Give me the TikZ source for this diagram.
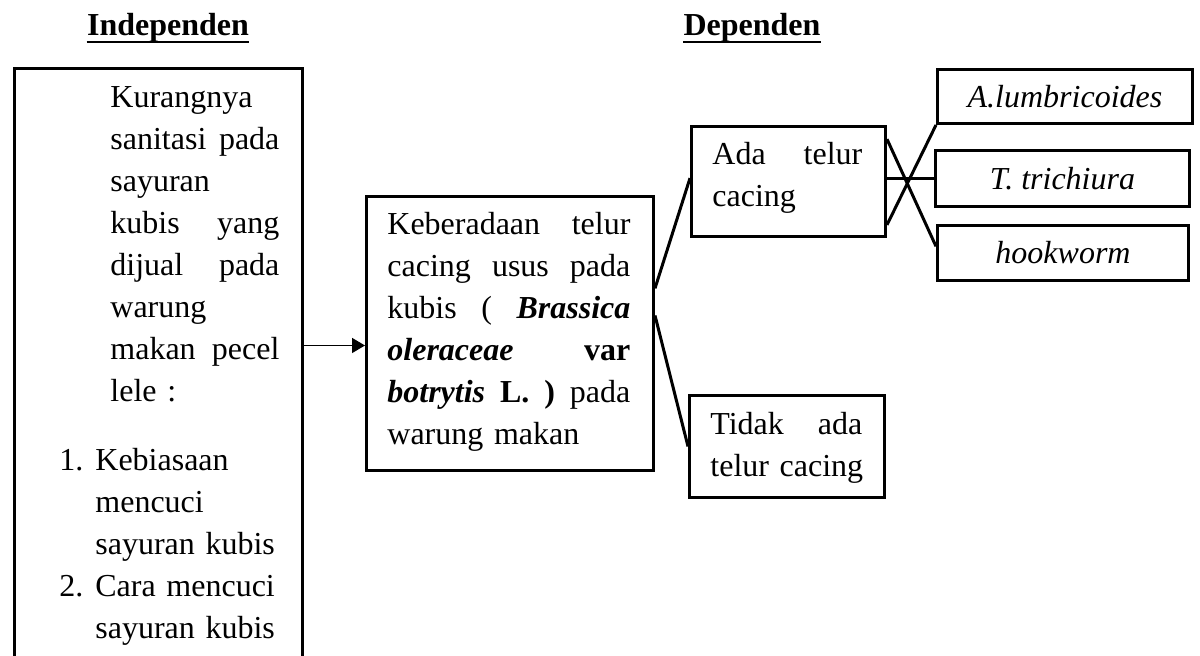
\documentclass[tikz,border=0pt]{standalone}
\usepackage{fontspec}
\setmainfont{Liberation Serif}
\usetikzlibrary{calc,arrows.meta}
\newcommand{\jline}[2]{\leavevmode\hbox to #1{#2}}
\hyphenpenalty=10000
\begin{document}
\begin{tikzpicture}[x=0.5pt,y=-0.5pt,
  box/.style={draw,line width=1.5pt,inner sep=0pt,anchor=north west,
    font=\fontsize{16}{21}\selectfont},
  conn/.style={line width=1.5pt},
  arr/.style={line width=0.75pt,-{Triangle[length=6.5pt,width=7.5pt]}},
  txt/.style={inner sep=0pt,anchor=base west,align=left,
    font=\fontsize{16}{21}\selectfont},
  title/.style={inner sep=0pt,anchor=base,font=\fontsize{16}{21}\selectfont\bfseries},
  uline/.style={line width=1pt},
]
\useasboundingbox (0,0) rectangle (1200,656);
\clip (0,0) rectangle (1200,656);

% titles
\node[title] (indT) at (168,36) {Independen};
\node[title] (depT) at (752,36) {Dependen};
\draw[uline] ([yshift=-3pt]indT.base west) -- ([yshift=-3pt]indT.base east);
\draw[uline] ([yshift=-3pt]depT.base west) -- ([yshift=-3pt]depT.base east);

% boxes
\node[box,minimum width=144pt,minimum height=330pt] (indep) at (13,67) {};
\node[box,minimum width=143.5pt,minimum height=137pt] (keb) at (365,195) {};
\node[box,minimum width=97pt,minimum height=55pt] (ada) at (690,125) {};
\node[box,minimum width=97.5pt,minimum height=51pt] (tidak) at (688,394) {};
\node[box,minimum width=127.5pt,minimum height=27pt] (alum) at (936,68) {\itshape A.lumbricoides};
\node[box,minimum width=127pt,minimum height=28pt] (trich) at (934,149) {\itshape T. trichiura};
\node[box,minimum width=125.5pt,minimum height=27.5pt] (hook) at (936,224) {\itshape hookworm};

% texts
\node[txt,text width=95pt] (indtxt) at (110,108) {%
Kurangnya\\
\jline{84.5pt}{sanitasi\hfill pada}\\
sayuran\\
\jline{84.5pt}{kubis\hfill yang}\\
\jline{84.5pt}{dijual\hfill pada}\\
warung\\
\jline{84.5pt}{makan\hfill pecel}\\
lele :};
\node[txt] (num1) at (59,471) {1.};
\node[txt] (num2) at (59,597) {2.};
\node[txt,text width=100pt] (items) at (95,471) {%
Kebiasaan\\
mencuci\\
sayuran kubis\\
Cara mencuci\\
sayuran kubis};
\node[txt,text width=130pt] (kebtxt) at (387,235) {%
\jline{121.5pt}{Keberadaan\hfill telur}\\
\jline{121.5pt}{cacing\hfill usus\hfill pada}\\
\jline{121.5pt}{kubis\hfill (\hfill\textbf{\textit{Brassica}}}\\
\jline{121.5pt}{\textbf{\textit{oleraceae}}\hfill\textbf{var}}\\
\jline{121.5pt}{\textbf{\textit{botrytis}}\hfill\textbf{L.}\hfill\textbf{)}\hfill pada}\\
warung makan};
\node[txt,text width=85pt] (adatxt) at (712,165) {%
\jline{75pt}{Ada\hfill telur}\\
cacing};
\node[txt,text width=85pt] (tidaktxt) at (710,435) {%
\jline{76pt}{Tidak\hfill ada}\\
telur cacing};

% connectors
\coordinate (arrTip) at ([yshift=-6pt]keb.west);
\draw[arr] (indep.east |- arrTip) -- (arrTip);
\draw[conn] ($(keb.north east)!0.337!(keb.south east)$) -- ($(ada.north west)!0.47!(ada.south west)$);
\draw[conn] ($(keb.north east)!0.435!(keb.south east)$) -- (tidak.west);
\draw[conn] ($(ada.north east)!0.884!(ada.south east)$) -- (alum.south west);
\draw[conn] (ada.east |- trich.west) -- (trich.west);
\draw[conn] ($(ada.north east)!0.125!(ada.south east)$) -- ($(hook.north west)!0.386!(hook.south west)$);
\end{tikzpicture}
\end{document}
